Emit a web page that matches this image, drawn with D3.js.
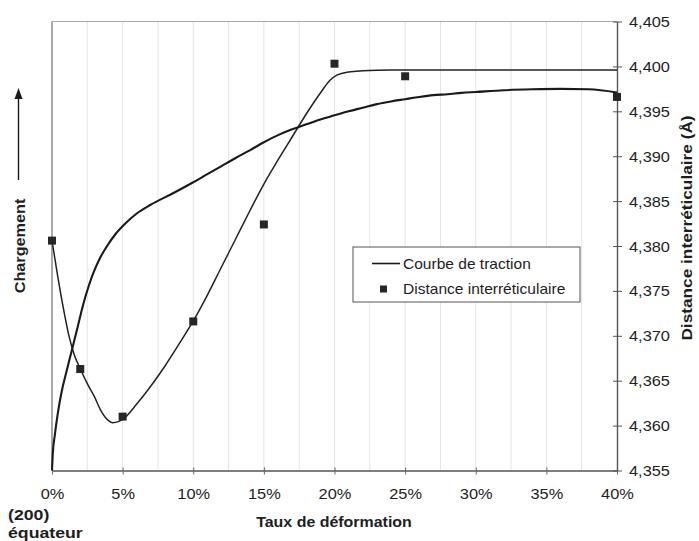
<!DOCTYPE html>
<html><head><meta charset="utf-8">
<script src="https://cdn.jsdelivr.net/npm/d3@7"></script>
<style>
html,body{margin:0;padding:0;background:#fff;}
svg{display:block;}
text{font-family:"Liberation Sans",Arial,Helvetica,sans-serif;fill:#1e1e1e;}
</style></head>
<body>
<svg id="chart" width="699" height="541"></svg>
<script>
// ---- data ----
const xTickValues = [0, 5, 10, 15, 20, 25, 30, 35, 40];
const yTickValues = [4.355, 4.360, 4.365, 4.370, 4.375, 4.380, 4.385, 4.390, 4.395, 4.400, 4.405];

// measured interplanar distance (squares)
const distStrain = [0, 2, 5, 10, 15, 20, 25, 40];
const distValue  = [4.3806, 4.3663, 4.3610, 4.3716, 4.3824, 4.4003, 4.3989, 4.3966];

// fitted curve through the distance points
const fitStrain = [0, 0.4, 0.8, 1.2, 1.6, 2, 2.5, 3, 3.5, 4, 4.3, 4.7, 5, 6, 7, 8, 9, 10, 11, 12, 13, 14, 15, 16, 17, 18, 19, 19.7, 20.2, 21, 22, 24, 30, 40];
const fitValue  = [4.3806, 4.37667, 4.37311, 4.3700, 4.36778, 4.36633, 4.36467, 4.36322, 4.36156, 4.36056, 4.36033, 4.36044, 4.36068, 4.36241, 4.36441, 4.36664, 4.36909, 4.37165, 4.37454, 4.37766, 4.38078, 4.38390, 4.38690, 4.38958, 4.39214, 4.39470, 4.39704, 4.39849, 4.39905, 4.39938, 4.39951, 4.39960, 4.39960, 4.39960];

// tensile curve (load, arbitrary units 0..1)
const tracStrain = [0, 0.05, 0.2, 0.4, 0.7, 1.0, 1.4, 1.8, 2.2, 2.6, 2.93, 3.4, 3.9, 4.5, 5.3, 6.0, 6.95, 8.6, 10, 11, 12, 13, 14, 15, 16, 17, 18, 19, 20, 21, 22, 23, 24, 25, 26, 27, 28, 29, 30, 32, 34, 36, 38, 40];
const tracLoad   = [0, 0.0345, 0.079, 0.125, 0.178, 0.2171, 0.2673, 0.3174, 0.3686, 0.4109, 0.4399, 0.4733, 0.500, 0.5267, 0.5535, 0.5724, 0.5913, 0.618, 0.642, 0.660, 0.678, 0.696, 0.713, 0.731, 0.747, 0.760, 0.771, 0.782, 0.791, 0.800, 0.808, 0.816, 0.822, 0.827, 0.832, 0.836, 0.838, 0.841, 0.843, 0.847, 0.849, 0.850, 0.849, 0.842];

const legendLabels = ["Courbe de traction", "Distance interréticulaire"];

// ---- layout ----
const svg = d3.select("#chart");
const L = 52, R = 617, T = 21.5, B = 470.5;
const x = d3.scaleLinear().domain([0, 40]).range([L, R]);
const yR = d3.scaleLinear().domain([4.355, 4.405]).range([B, T]);
const yL = d3.scaleLinear().domain([0, 1]).range([B, T]);

// vertical grid every 2.5%
const gridVals = d3.range(2.5, 40, 2.5);
svg.append("g").selectAll("line").data(gridVals).join("line")
  .attr("x1", d => x(d)).attr("x2", d => x(d))
  .attr("y1", T).attr("y2", B)
  .attr("stroke", "#e4e4e4").attr("stroke-width", 1);

// top border
svg.append("line").attr("x1", L).attr("x2", R).attr("y1", T).attr("y2", T)
  .attr("stroke", "#a8a8a8").attr("stroke-width", 1);
// left axis line
svg.append("line").attr("x1", L).attr("x2", L).attr("y1", T).attr("y2", B)
  .attr("stroke", "#7a7a7a").attr("stroke-width", 1.3);

// bottom axis
const xAxis = d3.axisBottom(x).tickValues(xTickValues).tickFormat(d => d + "%").tickSizeOuter(0).tickSizeInner(4);
const gx = svg.append("g").attr("transform", `translate(0,${B})`).call(xAxis);
gx.select(".domain").attr("stroke", "#555").attr("stroke-width", 1.4);
gx.selectAll(".tick line").attr("stroke", "#666").attr("y1", -3).attr("y2", 4);
gx.selectAll(".tick text")
  .attr("y", 0).attr("dy", null)
  .attr("transform", "translate(0,28.5) scale(1.17,1)")
  .style("font-size", "14px").style("fill", "#1e1e1e");

// right axis
const yAxis = d3.axisRight(yR).tickValues(yTickValues)
  .tickFormat(d => d3.format(".3f")(d).replace(".", ",")).tickSizeOuter(0).tickSizeInner(5);
const gy = svg.append("g").attr("transform", `translate(${R},0)`).call(yAxis);
gy.select(".domain").attr("stroke", "#555").attr("stroke-width", 1.4);
gy.selectAll(".tick line").attr("stroke", "#555").attr("x1", -4).attr("x2", 5);
gy.selectAll(".tick text")
  .attr("x", 0).attr("dy", "0.36em")
  .attr("transform", "translate(12,0) scale(1.17,1)")
  .style("font-size", "14px").style("fill", "#1e1e1e");
svg.selectAll(".tick text").attr("font-family", null);

// curves
const fitLine = d3.line().x((d, i) => x(fitStrain[i])).y(d => yR(d)).curve(d3.curveMonotoneX);
svg.append("path").datum(fitValue).attr("d", fitLine)
  .attr("fill", "none").attr("stroke", "#222").attr("stroke-width", 1.5);

const tracLine = d3.line().x((d, i) => x(tracStrain[i])).y(d => yL(d)).curve(d3.curveMonotoneX);
svg.append("path").datum(tracLoad).attr("d", tracLine)
  .attr("fill", "none").attr("stroke", "#1a1a1a").attr("stroke-width", 2.1);

// squares
const sq = 8;
svg.append("g").selectAll("rect").data(distValue).join("rect")
  .attr("x", (d, i) => x(distStrain[i]) - sq / 2)
  .attr("y", d => yR(d) - sq / 2)
  .attr("width", sq).attr("height", sq)
  .attr("fill", "#262626");

// legend
const lg = svg.append("g");
lg.append("rect").attr("x", 353).attr("y", 247).attr("width", 227).attr("height", 55)
  .attr("fill", "#fff").attr("stroke", "#555").attr("stroke-width", 1);
lg.append("line").attr("x1", 372).attr("x2", 400).attr("y1", 263.5).attr("y2", 263.5)
  .attr("stroke", "#1a1a1a").attr("stroke-width", 1.6);
lg.append("rect").attr("x", 380).attr("y", 285.5).attr("width", 7).attr("height", 7).attr("fill", "#262626");
lg.selectAll("text").data(legendLabels).join("text")
  .attr("transform", (d, i) => `translate(403,${263.5 + i * 25.5}) scale(1.11,1)`)
  .attr("dy", "0.36em").style("font-size", "14px").text(d => d);

// axis titles
svg.append("text").attr("transform", "translate(334,527) scale(1.1,1)")
  .attr("text-anchor", "middle").style("font-size", "14.5px").style("font-weight", "bold")
  .text("Taux de déformation");
svg.append("text").attr("transform", "translate(8,519.5) scale(1.18,1)")
  .style("font-size", "15px").style("font-weight", "bold").text("(200)");
svg.append("text").attr("transform", "translate(8,538) scale(1.18,1)")
  .style("font-size", "15px").style("font-weight", "bold").text("équateur");
svg.append("text").attr("transform", "translate(20,246) rotate(-90) scale(1.12,1)")
  .attr("text-anchor", "middle").attr("dy", "0.36em")
  .style("font-size", "14.5px").style("font-weight", "bold").text("Chargement");
svg.append("text").attr("transform", "translate(687,228) rotate(-90) scale(1.15,1)")
  .attr("text-anchor", "middle").attr("dy", "0.36em")
  .style("font-size", "15px").style("font-weight", "bold").text("Distance interréticulaire (Å)");

// arrow next to "Chargement"
svg.append("line").attr("x1", 18.5).attr("x2", 18.5).attr("y1", 180).attr("y2", 97)
  .attr("stroke", "#1a1a1a").attr("stroke-width", 1.4);
svg.append("path").attr("d", "M18.5,88 L14.5,99 L22.5,99 Z").attr("fill", "#1a1a1a");
</script>
</body></html>
